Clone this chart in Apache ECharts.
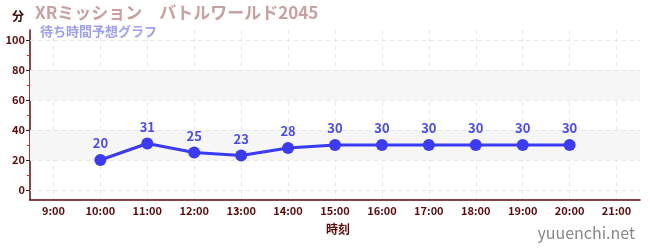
<!DOCTYPE html>
<html><head><meta charset="utf-8">
<script src="https://cdn.jsdelivr.net/npm/echarts@6/dist/echarts.min.js"></script>
<style>html,body{margin:0;padding:0;background:#fff}#c{width:650px;height:250px}</style>
</head><body><div id="c"></div>
<script>
const categories = ['9:00','10:00','11:00','12:00','13:00','14:00','15:00','16:00','17:00','18:00','19:00','20:00','21:00'];
const waitTimes = [null,20,31,25,23,28,30,30,30,30,30,30,null];
const yTicks = [0,20,40,60,80,100];
const yMinorTicks = [10,30,50,70,90];
const titleText = 'XRミッション　バトルワールド2045';
const subtitleText = '待ち時間予想グラフ';

const FONT = '"Noto Sans CJK JP","Noto Sans",sans-serif';
const AX = '#5c0a0a';
const chart = echarts.init(document.getElementById('c'));
chart.setOption({
  animation:false,
  textStyle:{fontFamily:FONT},
  title:[
    {text:titleText,left:35,top:4,padding:0,textStyle:{color:'#c9a0a0',fontSize:17,fontWeight:'bold',fontFamily:FONT}},
    {text:subtitleText,left:40,top:25,padding:0,textStyle:{color:'#9f9ff5',fontSize:13,fontWeight:'bold',fontFamily:FONT}},
    {text:'分',left:12,top:10,padding:0,textStyle:{color:'#3a0505',fontSize:12,fontWeight:'bold',fontFamily:FONT}},
    {text:'時刻',left:326,top:223,padding:0,textStyle:{color:AX,fontSize:12,fontWeight:'bold',fontFamily:FONT}},
    {text:'yuuenchi.net',right:15,top:225,padding:0,textStyle:{color:'#888',fontSize:16,fontWeight:'normal',fontFamily:FONT}}
  ],
  grid:{left:30,right:10,top:30,bottom:50},
  xAxis:{
    type:'category',data:categories,boundaryGap:true,
    axisLine:{onZero:false,lineStyle:{color:AX,width:1.5}},
    axisTick:{alignWithLabel:true,length:4,lineStyle:{color:AX}},
    axisLabel:{color:AX,fontWeight:'bold',fontSize:11,margin:5,fontFamily:FONT},
    splitLine:{show:true,alignWithLabel:true,lineStyle:{color:'#e6e6e6',type:[4,4]}}
  },
  yAxis:[{
    type:'value',min:-6.67,max:106.67,
    axisLine:{show:true,lineStyle:{color:AX,width:1.5}},
    axisTick:{show:true,length:4,customValues:yTicks,lineStyle:{color:'#222'}},
    axisLabel:{color:AX,fontWeight:'bold',fontSize:11,margin:5,customValues:yTicks,fontFamily:FONT},
    splitLine:{show:false},
    splitArea:{show:false}
  },{
    type:'value',min:-6.67,max:106.67,position:'left',
    axisLine:{show:false},
    axisTick:{show:true,length:3,customValues:yMinorTicks,lineStyle:{color:'#e02020'}},
    axisLabel:{show:false},
    splitLine:{show:false}
  }],
  series:[{
    type:'line',data:[],z:1,silent:true,
    markArea:{silent:true,itemStyle:{color:'#f6f6f6'},data:[[{yAxis:20},{yAxis:40}],[{yAxis:60},{yAxis:80}]]},
    markLine:{silent:true,symbol:'none',label:{show:false},lineStyle:{color:'#e6e6e6',type:[4,4],width:1},
      data:yTicks.map(v=>({yAxis:v}))}
  },{
    type:'line',data:waitTimes,connectNulls:false,
    symbol:'circle',symbolSize:12,
    lineStyle:{color:'#3b3bf5',width:3},
    itemStyle:{color:'#3b3bf5'},
    label:{show:true,position:'top',distance:4,color:'#4a4af0',fontWeight:'bold',fontSize:13,fontFamily:FONT},
    z:5
  }]
});
</script></body></html>
